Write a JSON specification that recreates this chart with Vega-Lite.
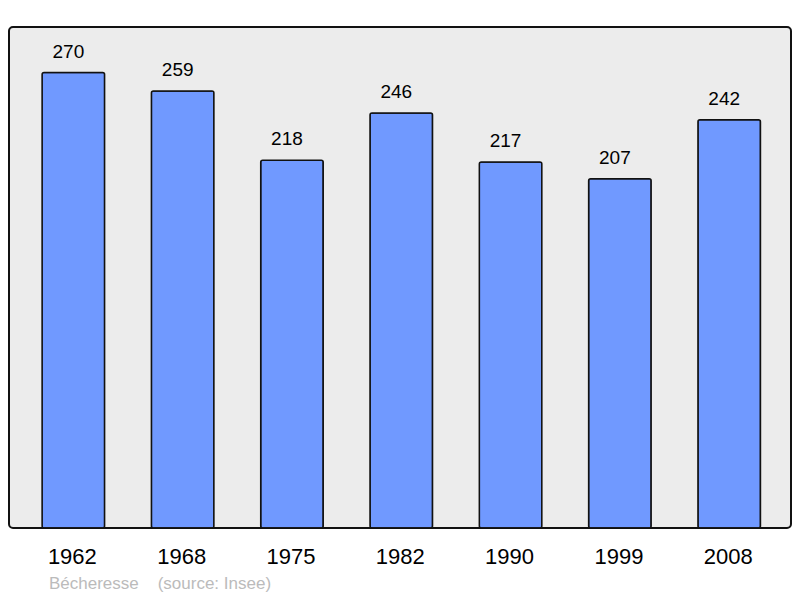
{
  "$schema": "https://vega.github.io/schema/vega-lite/v6.json",
  "autosize": "none",
  "width": 782,
  "height": 501,
  "padding": {"left": 9, "top": 27, "right": 9, "bottom": 70},
  "background": "#ffffff",
  "config": {
    "font": "Liberation Sans",
    "view": {"fill": "#ececec", "stroke": "#111111", "strokeWidth": 2, "cornerRadius": 4}
  },
  "title": {
    "text": "Bécheresse\u00a0\u00a0\u00a0\u00a0(source: Insee)",
    "orient": "bottom",
    "anchor": "start",
    "frame": "group",
    "dx": 40,
    "offset": 9,
    "fontSize": 17,
    "fontWeight": "normal",
    "color": "#bbbbbb",
    "font": "Liberation Sans"
  },
  "data": {
    "values": [
      {"year": "1962", "pop": 270},
      {"year": "1968", "pop": 259},
      {"year": "1975", "pop": 218},
      {"year": "1982", "pop": 246},
      {"year": "1990", "pop": 217},
      {"year": "1999", "pop": 207},
      {"year": "2008", "pop": 242}
    ]
  },
  "encoding": {
    "x": {
      "field": "year",
      "type": "nominal",
      "sort": null,
      "scale": {"paddingInner": 0.428, "paddingOuter": 0.291, "align": 0.52},
      "axis": {
        "title": null,
        "labelAngle": 0,
        "labelFontSize": 22,
        "labelColor": "#000000",
        "labelBaseline": "alphabetic",
        "labelPadding": 35,
        "labelOffset": -1,
        "ticks": false,
        "tickSize": 0,
        "domain": false,
        "grid": false
      }
    },
    "y": {
      "field": "pop",
      "type": "quantitative",
      "scale": {"domain": [0, 297], "nice": false, "zero": true},
      "axis": null
    }
  },
  "layer": [
    {
      "mark": {"type": "bar", "fill": "#7099ff", "stroke": "#111111", "strokeWidth": 1.5, "cornerRadius": 2}
    },
    {
      "mark": {"type": "text", "baseline": "alphabetic", "dy": -15, "dx": -5, "fontSize": 19, "color": "#000000"},
      "encoding": {"text": {"field": "pop", "type": "quantitative"}}
    }
  ]
}
